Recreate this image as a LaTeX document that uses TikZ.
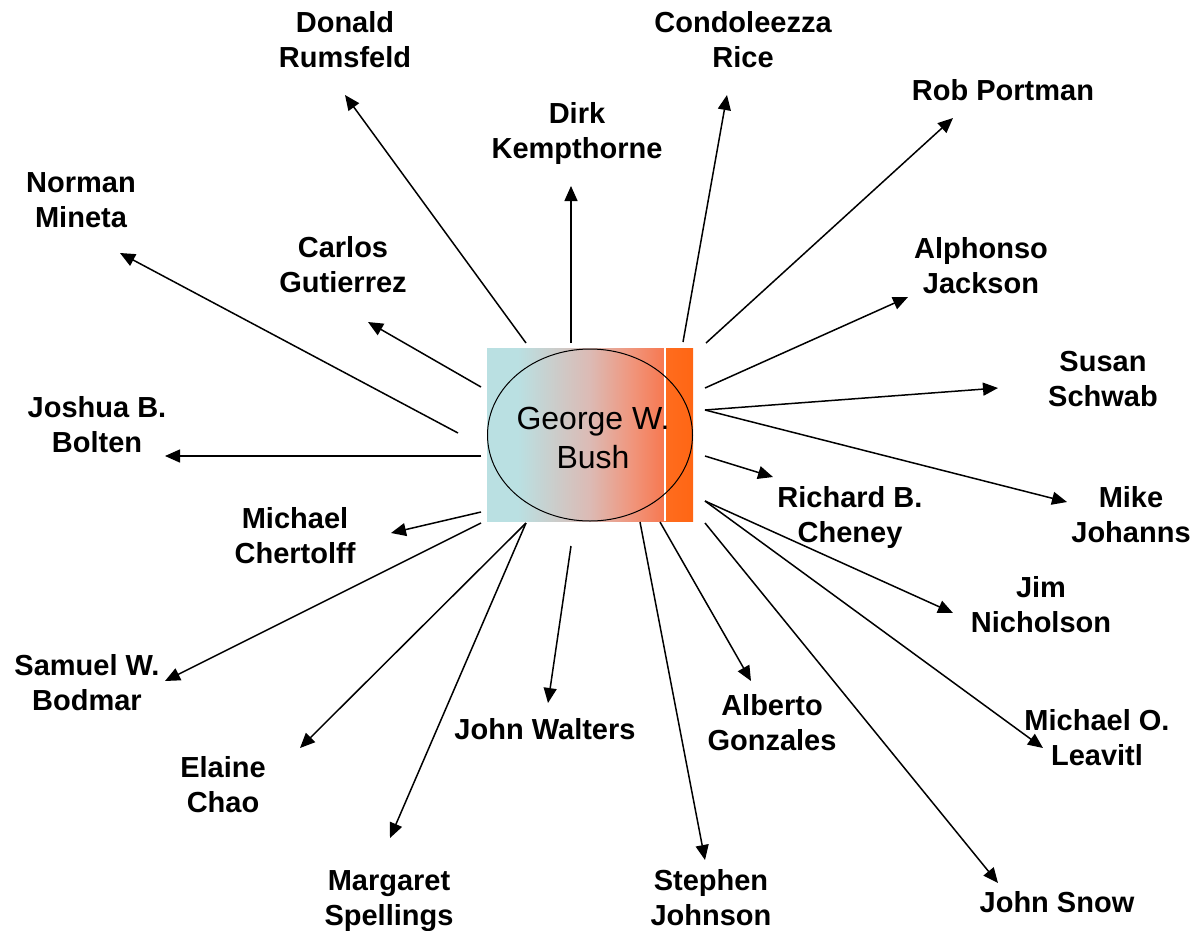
\documentclass[tikz,border=0pt]{standalone}
\usepackage{fontspec}
\setmainfont{Liberation Sans}
\usetikzlibrary{arrows.meta,shapes.geometric}
\definecolor{cyanL}{RGB}{186,224,226}
\definecolor{midC}{RGB}{220,186,180}
\definecolor{salC}{RGB}{240,150,125}
\definecolor{oraA}{RGB}{247,120,80}
\definecolor{oraB}{RGB}{255,108,30}
\definecolor{oraC}{RGB}{255,102,20}
\pgfdeclarehorizontalshading{bushshade}{100bp}{color(0bp)=(cyanL); color(25bp)=(cyanL); color(32.5bp)=(cyanL); color(50bp)=(midC); color(60bp)=(salC); color(68bp)=(oraA); color(68.25bp)=(oraB); color(75bp)=(oraC); color(100bp)=(oraC)}
\tikzset{
  lbl/.style={font=\bfseries\fontsize{29}{35}\selectfont, align=center, inner sep=0pt, anchor=base},
  arr/.style={line width=1.5pt, -{Triangle[length=15pt,width=13pt]}},
}
\begin{document}
\begin{tikzpicture}[x=1pt,y=-1pt]
\useasboundingbox (0,0) rectangle (1200,930);
% central box
\shade[shading=bushshade] (487,348) rectangle (693,521);
\draw[white, line width=1.5pt] (665,348) -- (665,521);
\node[draw, ellipse, line width=1pt, minimum width=205pt, minimum height=172pt, inner sep=0pt] (bush) at (590,435) {};
\node[align=center, inner sep=0pt, anchor=base, font=\fontsize{32}{39}\selectfont] (bushtext) at (593,468) {George W.\\Bush};
% labels
\node[lbl] (rumsfeld) at (345,67) {Donald\\Rumsfeld};
\node[lbl] (rice) at (743,67) {Condoleezza\\Rice};
\node[lbl] (kempthorne) at (577,158) {Dirk\\Kempthorne};
\node[lbl] (portman) at (1003,100) {Rob Portman};
\node[lbl] (mineta) at (81,227) {Norman\\Mineta};
\node[lbl] (gutierrez) at (343,292) {Carlos\\Gutierrez};
\node[lbl] (jackson) at (981,293) {Alphonso\\Jackson};
\node[lbl] (schwab) at (1103,406) {Susan\\Schwab};
\node[lbl] (bolten) at (97,452) {Joshua B.\\Bolten};
\node[lbl] (chertolff) at (295,563) {Michael\\Chertolff};
\node[lbl] (cheney) at (850,542) {Richard B.\\Cheney};
\node[lbl] (johanns) at (1131,542) {Mike\\Johanns};
\node[lbl] (nicholson) at (1041,632) {Jim\\Nicholson};
\node[lbl] (bodmar) at (87,710) {Samuel W.\\Bodmar};
\node[lbl] (walters) at (545,739) {John Walters};
\node[lbl] (gonzales) at (772,750) {Alberto\\Gonzales};
\node[lbl] (leavitl) at (1097,765) {Michael O.\\Leavitl};
\node[lbl] (chao) at (223,812) {Elaine\\Chao};
\node[lbl] (spellings) at (389,925) {Margaret\\Spellings};
\node[lbl] (johnson) at (711,925) {Stephen\\Johnson};
\node[lbl] (snow) at (1057,912) {John Snow};
% start coordinates
\coordinate (sRum) at (526,343);
\coordinate (sKem) at (571,343);
\coordinate (sRic) at (683,342);
\coordinate (sPor) at (706,343);
\coordinate (sJac) at (705,388);
\coordinate (sSch) at (705,410);
\coordinate (sJoh) at (705,410);
\coordinate (sChe) at (705,456);
\coordinate (sNic) at (705,501);
\coordinate (sLea) at (705,501);
\coordinate (sSno) at (705,523);
\coordinate (sGon) at (660,522);
\coordinate (sSte) at (640,522);
\coordinate (sWal) at (571,546);
\coordinate (sSpe) at (526,523);
\coordinate (sCha) at (526,523);
\coordinate (sBod) at (481,523);
\coordinate (sChr) at (481,512);
\coordinate (sBol) at (481,456);
\coordinate (sMin) at (458,433);
\coordinate (sGut) at (481,387);
% end coordinates
\coordinate (eRum) at (345,95);
\coordinate (eKem) at (571,186);
\coordinate (eRic) at (727,95);
\coordinate (ePor) at (953,118);
\coordinate (eJac) at (908,297);
\coordinate (eSch) at (998,388);
\coordinate (eJoh) at (1067,502);
\coordinate (eChe) at (773,477);
\coordinate (eNic) at (953,613);
\coordinate (eLea) at (1043,748);
\coordinate (eSno) at (998,883);
\coordinate (eGon) at (751,681);
\coordinate (eSte) at (705,860);
\coordinate (eWal) at (548,703);
\coordinate (eSpe) at (390,838);
\coordinate (eCha) at (300,748);
\coordinate (eBod) at (165,681);
\coordinate (eChr) at (391,533);
\coordinate (eBol) at (165,456);
\coordinate (eMin) at (120,253);
\coordinate (eGut) at (368,322);
% connectors
\foreach \n in {Rum,Kem,Ric,Por,Jac,Sch,Joh,Che,Nic,Lea,Sno,Gon,Ste,Wal,Spe,Cha,Bod,Chr,Bol,Min,Gut}
  \draw[arr] (s\n) -- (e\n);
\end{tikzpicture}
\end{document}
